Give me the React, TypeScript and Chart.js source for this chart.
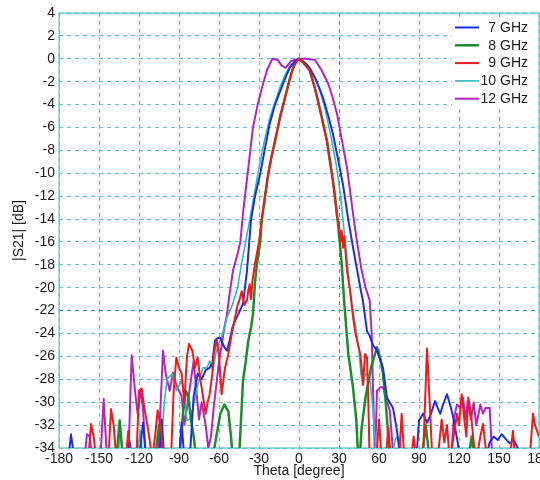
import React, { useEffect, useRef } from 'react';
import { Chart, registerables } from 'chart.js';

Chart.register(...registerables);

// ---------- data (theta [deg], |S21| [dB]) ----------
const seriesLabels = ['7 GHz', '8 GHz', '9 GHz', '10 GHz', '12 GHz'];
const seriesColors = ['#1c2ee6', '#1f8c2c', '#f01a1a', '#2fb9c2', '#b423c4'];
const seriesWidths = [2, 2.5, 2, 1.6, 2];

const thetaTicks = [-180, -150, -120, -90, -60, -30, 0, 30, 60, 90, 120, 150, 180];
const dbTicks = [4, 2, 0, -2, -4, -6, -8, -10, -12, -14, -16, -18, -20, -22, -24, -26, -28, -30, -32, -34];

const pts7: [number, number][] = [
  [-180, -35], [-173, -35], [-171, -32.8], [-168.5, -35], [-129, -35], [-127, -33.5], [-125, -35],
  [-120, -35], [-117, -31.8], [-114.5, -35], [-105, -35], [-103, -31.5], [-101, -35],
  [-90, -35], [-88, -31.8], [-86, -35], [-82, -35], [-79, -29.5], [-76, -27.5], [-73, -28],
  [-70, -27.2], [-67, -27], [-65, -26.6], [-63, -24.6], [-61, -24.4], [-59, -24.4], [-56, -25.2],
  [-54, -25.5], [-52, -24.6], [-50, -23.5], [-48, -22.9], [-45.5, -22.3], [-42, -21.4], [-39, -18.5],
  [-36, -14.1], [-33, -12], [-29, -10], [-25, -7.5], [-22, -5.7], [-18, -4], [-14, -2.8], [-10, -1.6],
  [-7, -0.8], [-3, -0.2], [0, 0], [4, -0.3], [8, -0.8], [13, -1.9], [18, -3.4], [22, -5], [25.5, -6.6],
  [29, -8.6], [33, -11], [37, -14.1], [41, -16.8], [46, -20], [48, -21.2], [51, -23.8], [53, -24.2],
  [55.5, -25], [58.5, -25.5], [61, -26.3], [63, -27], [66, -29.6], [68, -30], [70.5, -30.5],
  [73.5, -32.5], [76, -35], [88, -35], [90, -31.6], [93, -31], [96, -31.8], [99, -31], [102, -29.9],
  [104, -30.5], [106, -31], [108, -30.2], [111, -29.3], [114, -30.5], [116, -31.5], [119, -33.5],
  [121, -35], [140, -35], [143, -33.5], [146, -33], [149, -33.3], [152, -32.8], [155, -33.2],
  [158, -33.6], [161, -33.3], [164, -34], [166, -35], [180, -35],
];

const pts8: [number, number][] = [
  [-180, -35], [-137, -35], [-134.5, -31.6], [-132, -35], [-108, -35], [-105, -32], [-102, -35],
  [-90, -35], [-87, -31], [-85, -29], [-83, -29.5], [-81, -31.5], [-79, -33], [-77, -35],
  [-65, -35], [-62, -33], [-59, -31], [-56, -30.2], [-53, -30.8], [-51, -33], [-49.5, -35],
  [-45, -35], [-43.5, -31.6], [-42, -28.1], [-40, -26.5], [-38, -24.6], [-36, -23.5], [-34.5, -22.3],
  [-33, -19.5], [-31.5, -17.9], [-29, -15.9], [-28, -14.1], [-25.5, -12], [-23, -10], [-20.5, -8.5],
  [-18, -7.2], [-14, -5], [-10.5, -3.4], [-7, -1.8], [-5, -1], [-2, -0.2], [0, 0], [3, -0.3], [8, -1],
  [12, -2.6], [15.5, -4.3], [18, -5.6], [21, -7.2], [23, -8.8], [25.5, -10.7], [27, -12], [29, -14.1],
  [32, -17.9], [34, -21.4], [37, -25.8], [40.5, -28.7], [43, -31.6], [44.5, -35], [45.5, -35],
  [47, -32.2], [50, -29.5], [54, -27], [58.5, -25.2], [61, -26.2], [63, -27.5], [65, -30], [67, -33],
  [68, -35], [92, -35], [95, -32], [98, -35], [127, -35], [129.5, -33], [132, -35], [180, -35],
];

const pts9: [number, number][] = [
  [-180, -35], [-158, -35], [-156, -31.9], [-154, -33], [-152, -35], [-143, -35], [-141, -30.6],
  [-139, -32], [-137, -35], [-130, -35], [-128, -32.5], [-126, -35], [-122, -35], [-120, -29],
  [-118, -28.8], [-116, -30.5], [-113, -32.5], [-110, -35], [-108, -33], [-106, -30.7], [-104, -32],
  [-101, -35], [-96, -35], [-94, -29], [-92, -26.1], [-90, -27], [-88, -27.5], [-86, -30], [-84, -26],
  [-82.5, -24.9], [-80, -25.5], [-78, -27], [-76, -26.1], [-74, -28], [-72, -29.5], [-70, -31],
  [-68.5, -30], [-67, -29.3], [-65, -27.5], [-64, -25.8], [-62.5, -25], [-61.5, -24.6], [-60, -26],
  [-58, -29.3], [-55.5, -27], [-53, -25.8], [-51, -24.4], [-50, -23.8], [-48, -22.6], [-46, -21.5],
  [-44.5, -21], [-43, -20.3], [-41, -21.5], [-39, -21.1], [-38, -20.2], [-37, -19.7], [-36, -21],
  [-35, -19.5], [-33, -17.9], [-30, -16], [-28, -14.1], [-26, -12.5], [-23, -10], [-20.5, -8.5],
  [-18, -7.2], [-14, -5], [-10.5, -3.4], [-7, -1.8], [-4, -0.6], [0, 0], [3, -0.3], [8, -1], [12, -2.6],
  [15.5, -4.3], [21, -7.2], [25.5, -10.7], [28.5, -13.8], [30, -14.5], [31, -16], [32, -15], [33, -16.5],
  [34, -15.5], [36, -18.5], [38, -20], [40.5, -22.5], [42, -23.8], [43.5, -24.6], [46, -25.8], [47, -27],
  [48, -28.5], [49.5, -25.8], [51, -26.1], [52, -30], [53, -35], [58, -35], [60, -31.5], [62, -35],
  [65, -35], [67, -32.2], [69, -35], [75, -35], [77, -31], [79, -35], [84, -35], [86, -33], [88, -35],
  [93, -35], [96, -25.3], [98, -30], [100, -35], [104, -35], [107, -31.5], [109, -33.5], [111, -32],
  [113, -35], [116, -33], [118.5, -31], [120, -32], [122, -29.3], [124, -31.5], [125.5, -33],
  [127, -29.6], [129, -31], [131, -33.5], [133, -35], [136, -33], [138, -31.9], [140, -34], [142, -35],
  [158, -35], [160.5, -32.5], [162, -35], [173, -35], [175.5, -31], [177, -32], [180, -33],
];

const pts10: [number, number][] = [
  [-180, -35], [-136, -35], [-134, -32.3], [-132, -35], [-122, -35], [-119, -32.5], [-117, -35],
  [-104, -35], [-101, -30], [-99, -28], [-95, -27.5], [-92, -29], [-88, -28.1], [-86, -29.5],
  [-84, -31.6], [-82, -31.5], [-80, -30.7], [-76, -28.5], [-72, -27], [-69, -27], [-67, -26.4],
  [-64.5, -27.2], [-62, -25.5], [-58, -24.3], [-54, -22.6], [-50, -21.5], [-46, -20], [-43, -17.8],
  [-40, -16], [-37, -14.1], [-33, -11.5], [-30, -9.5], [-26, -7.2], [-22, -5.2], [-18, -3.8],
  [-14, -2.4], [-10, -1.3], [-6, -0.5], [0, 0], [4, -0.3], [8, -0.8], [12, -1.6], [16, -2.9],
  [20, -4.6], [24, -6.8], [28, -9.3], [31, -11.8], [33, -14.1], [35.5, -17], [38, -20], [40.5, -22],
  [43, -23.8], [45, -25.5], [46.5, -27.5], [48, -28.4], [50, -27.5], [53, -27.8], [55, -30], [57, -33],
  [58, -35], [70, -35], [72, -33.3], [74, -33], [76, -33.5], [78, -35], [180, -35],
];

const pts12: [number, number][] = [
  [-180, -35], [-161, -35], [-159, -32.8], [-157, -33], [-155, -35], [-149, -35], [-146.5, -29.7],
  [-144, -35], [-128, -35], [-125.5, -25.9], [-123, -29], [-121, -31], [-119, -29], [-117, -30.5],
  [-115, -35], [-106, -35], [-104, -30.7], [-102, -25.5], [-100, -27.5], [-97, -29], [-94.5, -27.4],
  [-92, -28.5], [-88, -29.5], [-86, -32], [-84, -30.5], [-81, -28], [-79, -26.4], [-77, -29],
  [-75, -31.5], [-73, -30], [-70, -32], [-68, -34], [-66, -33], [-64, -30.5], [-62, -28.5],
  [-60, -26.5], [-58, -25], [-56, -23.5], [-54, -22.3], [-52, -20.5], [-49.5, -18.5], [-46, -17],
  [-44, -16], [-42, -13.5], [-40, -11.5], [-38, -9.5], [-34.5, -6], [-31, -4], [-27, -2.2], [-24, -1],
  [-20, 0], [-16, -0.1], [-13, -0.6], [-10, -0.8], [-6, -0.2], [0, 0], [5, 0], [12, -0.1], [17, -1],
  [22, -2.2], [25, -3.3], [28.5, -4.8], [32, -7], [36, -9.5], [40.5, -13.5], [43.5, -16], [47, -18.5],
  [50, -20], [53, -21.1], [54.5, -24], [55.5, -28.7], [57, -35], [58.5, -29], [61, -28.7], [63, -28.7],
  [65, -29.5], [68, -30.7], [71, -35], [114, -35], [116, -31.5], [118.5, -30.2], [121, -30.5],
  [123, -29.6], [125, -31.5], [126.5, -29.9], [129, -31.5], [131, -30], [133, -32], [136, -30.2],
  [138, -31], [140, -30.5], [143, -30.5], [145, -35], [178, -35], [180, -34],
];

const allSeries = [pts7, pts8, pts9, pts10, pts12];

// ---------- styling ----------
const FONT = '"Liberation Sans", Arial, sans-serif';
const GRID = '#6cc2c4';
const GRID_DARK = '#2f9ea2';
const FRAME = '#5cc0c4';
const TEXT = '#1c1c1c';

const framePlugin = {
  id: 'frame',
  beforeDatasetsDraw(chart: any) {
    const { ctx, chartArea } = chart;
    ctx.save();
    ctx.strokeStyle = FRAME;
    ctx.lineWidth = 1.2;
    ctx.setLineDash([]);
    ctx.strokeRect(chartArea.left, chartArea.top, chartArea.right - chartArea.left, chartArea.bottom - chartArea.top);
    ctx.restore();
  },
};

const legendPlugin = {
  id: 'insideLegend',
  afterDatasetsDraw(chart: any) {
    const { ctx, chartArea } = chart;
    const right = chartArea.right;
    const top = chartArea.top;
    ctx.save();
    ctx.fillStyle = '#ffffff';
    ctx.fillRect(right - 87, top + 4, 86, 92);
    ctx.font = '14px ' + FONT;
    ctx.textBaseline = 'middle';
    ctx.textAlign = 'right';
    chart.data.datasets.forEach((ds: any, i: number) => {
      const y = top + 14.5 + i * 17.8;
      ctx.strokeStyle = ds.borderColor;
      ctx.lineWidth = ds.borderWidth;
      ctx.beginPath();
      ctx.moveTo(right - 84, y);
      ctx.lineTo(right - 60, y);
      ctx.stroke();
      ctx.fillStyle = TEXT;
      ctx.fillText(ds.label, right - 11, y + 0.5);
    });
    ctx.restore();
  },
};

export default function App() {
  const canvasRef = useRef<HTMLCanvasElement | null>(null);

  useEffect(() => {
    const canvas = canvasRef.current;
    if (!canvas) return;
    const chart = new Chart(canvas, {
      type: 'line',
      data: {
        datasets: allSeries.map((pts, i) => ({
          label: seriesLabels[i],
          data: pts.map(([t, d]) => ({ x: t, y: d })),
          borderColor: seriesColors[i],
          backgroundColor: seriesColors[i],
          borderWidth: seriesWidths[i],
          pointRadius: 0,
          tension: 0,
          fill: false,
          borderJoinStyle: 'round' as const,
          order: i === 2 ? 0 : i + 1,
        })),
      },
      options: {
        responsive: false,
        maintainAspectRatio: false,
        animation: false,
        layout: { padding: { top: 13, right: 1, left: 0, bottom: 0 } },
        plugins: {
          legend: { display: false },
          tooltip: { enabled: false },
        },
        scales: {
          x: {
            type: 'linear',
            min: -180,
            max: 180,
            afterBuildTicks: (scale: any) => {
              scale.ticks = thetaTicks.map((v) => ({ value: v }));
            },
            afterFit: (scale: any) => {
              scale.height = 32;
              scale.paddingLeft = 0;
              scale.paddingRight = 0;
            },
            ticks: {
              autoSkip: false,
              maxRotation: 0,
              padding: 3,
              color: TEXT,
              font: { family: FONT, size: 14 },
            },
            grid: {
              drawTicks: false,
              color: (c: any) => (c.tick && c.tick.value === 30 ? GRID_DARK : GRID),
              lineWidth: 1,
            },
            border: { display: false, dash: [4, 4] },
            title: {
              display: true,
              text: 'Theta [degree]',
              color: TEXT,
              font: { family: FONT, size: 14 },
              padding: { top: 0, bottom: 0 },
            },
          },
          y: {
            type: 'linear',
            min: -34,
            max: 4,
            afterBuildTicks: (scale: any) => {
              scale.ticks = dbTicks.map((v) => ({ value: v }));
            },
            afterFit: (scale: any) => {
              scale.width = 59;
              scale.paddingTop = 0;
              scale.paddingBottom = 0;
            },
            ticks: {
              autoSkip: false,
              padding: 4,
              color: TEXT,
              font: { family: FONT, size: 14 },
            },
            grid: {
              drawTicks: false,
              color: (c: any) => (c.tick && c.tick.value === -22 ? GRID_DARK : GRID),
              lineWidth: 1,
            },
            border: { display: false, dash: [4, 4] },
            title: {
              display: true,
              text: '|S21| [dB]',
              color: TEXT,
              font: { family: FONT, size: 14 },
              padding: { top: 11, bottom: 0 },
            },
          },
        },
      },
      plugins: [framePlugin, legendPlugin],
    });
    return () => chart.destroy();
  }, []);

  return (
    <div style={{ position: 'fixed', left: 0, top: 0, width: 540, height: 480, background: '#fff' }}>
      <canvas ref={canvasRef} width={540} height={480} style={{ display: 'block' }} />
    </div>
  );
}
